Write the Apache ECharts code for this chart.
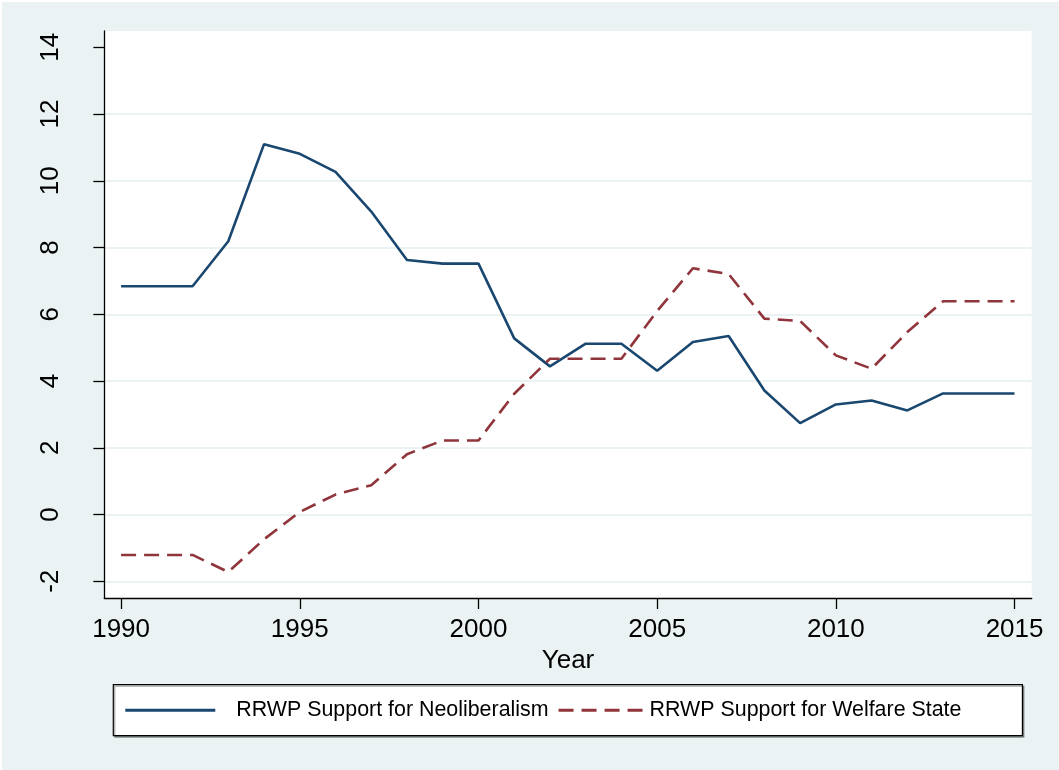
<!DOCTYPE html>
<html>
<head>
<meta charset="utf-8">
<script src="https://cdn.jsdelivr.net/npm/echarts@6/dist/echarts.min.js"></script>
<style>
  html, body { margin: 0; padding: 0; background: #ffffff; }
  #chart { position: absolute; left: 2px; top: 2px; width: 1057px; height: 768px; }
</style>
</head>
<body>
<div id="chart"></div>
<script>
// Yearly support scores of radical right-wing parties, 1990-2015
const years = [1990, 1991, 1992, 1993, 1994, 1995, 1996, 1997, 1998, 1999, 2000,
  2001, 2002, 2003, 2004, 2005, 2006, 2007, 2008, 2009, 2010, 2011, 2012, 2013, 2014, 2015];

const neoliberalism = [6.84, 6.84, 6.84, 8.19, 11.10, 10.81, 10.27, 9.08, 7.63, 7.52, 7.52,
  5.28, 4.44, 5.12, 5.12, 4.31, 5.17, 5.35, 3.72, 2.74, 3.30, 3.42, 3.12, 3.63, 3.63, 3.63];

const welfareState = [-1.21, -1.21, -1.21, -1.72, -0.74, 0.08, 0.60, 0.88, 1.81, 2.22, 2.22,
  3.62, 4.67, 4.67, 4.67, 6.10, 7.38, 7.21, 5.87, 5.80, 4.77, 4.37, 5.47, 6.39, 6.39, 6.39];

const xTicks = [1990, 1995, 2000, 2005, 2010, 2015];
const yTicks = [-2, 0, 2, 4, 6, 8, 10, 12, 14];
const yGridLines = [-2, 0, 2, 4, 6, 8, 10, 12];

const seriesNames = ['RRWP Support for Neoliberalism', 'RRWP Support for Welfare State'];

const FONT = 'Liberation Sans, Arial, sans-serif';
const pairs = (ys) => years.map((y, i) => [y, ys[i]]);

// Legend keys: a solid bar, and four dashes framed by two invisible dots
const solidKey = 'path://M0,0H90V3H0Z';
const dashedKey = 'path://M0,0H0.01V0.01H0Z M90,0H90.01V0.01H90Z' +
  ' M4,0H19V3H4Z M27,0H42V3H27Z M50,0H65V3H50Z M73,0H88V3H73Z';

const chart = echarts.init(document.getElementById('chart'), null, { renderer: 'canvas' });

chart.setOption({
  backgroundColor: '#eaf2f3',
  animation: false,
  grid: {
    left: 102.3, top: 29, right: 27.3, bottom: 172,
    show: true, backgroundColor: '#ffffff', borderWidth: 0
  },
  xAxis: {
    type: 'value',
    min: 1989.53, max: 2015.48,
    name: 'Year',
    nameLocation: 'middle',
    nameGap: 39,
    nameTextStyle: { fontFamily: FONT, fontSize: 26, color: '#000000' },
    axisLine: { onZero: false, lineStyle: { color: '#000000', width: 1.3 } },
    axisTick: { customValues: xTicks, length: 11, lineStyle: { color: '#000000', width: 1.3 } },
    axisLabel: {
      customValues: xTicks, margin: 19,
      fontFamily: FONT, fontSize: 26, color: '#000000',
      formatter: (v) => String(v)
    },
    splitLine: { show: false }
  },
  yAxis: [{
    type: 'value',
    min: -2.5, max: 14.49,
    axisLine: { show: true, onZero: false, lineStyle: { color: '#000000', width: 1.3 } },
    axisTick: { show: true, customValues: yTicks, length: 11, lineStyle: { color: '#000000', width: 1.3 } },
    axisLabel: {
      customValues: yTicks, rotate: 90, margin: 40,
      fontFamily: FONT, fontSize: 26, color: '#000000'
    },
    splitLine: { show: false }
  }, {
    // carries only the horizontal grid lines
    type: 'value',
    position: 'left',
    min: -2.5, max: 14.49,
    axisLine: { show: false },
    axisTick: { show: false, customValues: yGridLines },
    axisLabel: { show: false },
    splitLine: { show: true, lineStyle: { color: '#eaf2f3', width: 2 } }
  }],
  legend: {
    left: 111.3, top: 682.7,
    orient: 'horizontal',
    data: [
      { name: seriesNames[0], icon: solidKey, textStyle: { padding: [0, 0, 0, 16] } },
      { name: seriesNames[1], icon: dashedKey, textStyle: { padding: [0, 0, 0, 0] } }
    ],
    itemWidth: 90, itemHeight: 3, itemGap: 6,
    symbolKeepAspect: false,
    backgroundColor: '#ffffff',
    borderColor: '#000000', borderWidth: 1.2,
    shadowColor: 'rgba(0,0,0,0.35)', shadowOffsetX: 1.5, shadowOffsetY: 1.5, shadowBlur: 0,
    padding: [15, 61, 15, 12],
    textStyle: { fontFamily: FONT, fontSize: 21.4, color: '#000000' }
  },
  series: [{
    name: seriesNames[0],
    type: 'line',
    data: pairs(neoliberalism),
    symbol: 'none',
    lineStyle: { color: '#1a476f', width: 2.6 },
    itemStyle: { color: '#1a476f' }
  }, {
    name: seriesNames[1],
    type: 'line',
    data: pairs(welfareState),
    symbol: 'none',
    lineStyle: { color: '#90353b', width: 2.6, type: [15, 8] },
    itemStyle: { color: '#90353b' }
  }]
});
</script>
</body>
</html>
